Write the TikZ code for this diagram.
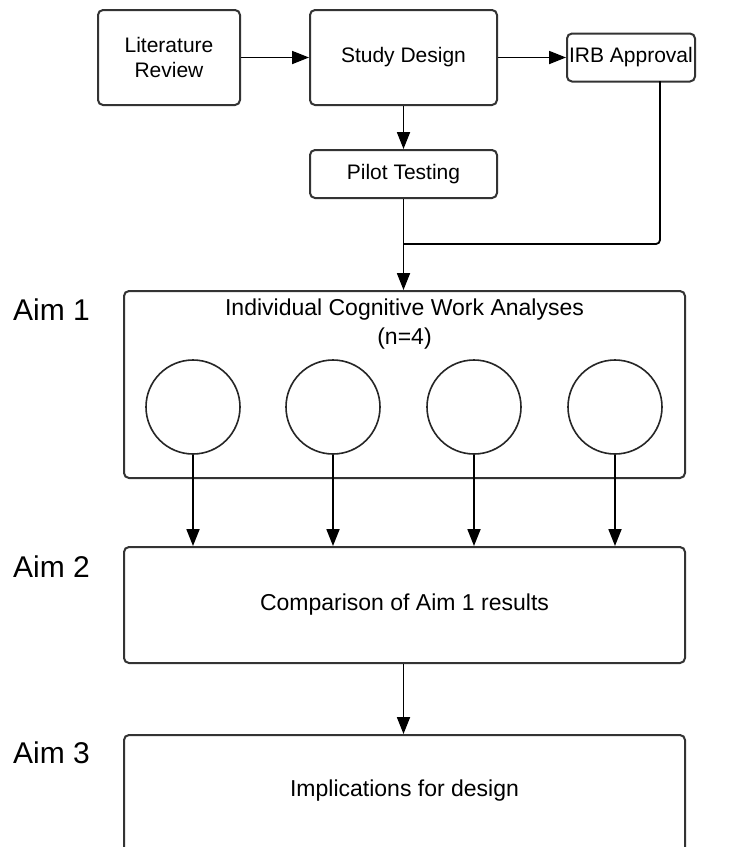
\documentclass[tikz,border=0pt]{standalone}
\usepackage{fontspec}
\setmainfont{Liberation Sans}
\usetikzlibrary{arrows.meta}
\begin{document}
\begin{tikzpicture}[x=1pt,y=-1pt,
  box/.style={draw=black!80,line width=2pt,rounded corners=5pt,inner sep=0pt,align=center,font=\fontsize{21}{25}\selectfont},
  bigbox/.style={box,font=\fontsize{23}{27}\selectfont},
  circ/.style={draw=black!85,line width=1.6pt,circle,minimum size=94pt,inner sep=0pt},
  arr/.style={draw=black,line width=1.8pt,-{Triangle[length=17pt,width=13pt]}},
  lbl/.style={font=\fontsize{23}{29}\selectfont,align=center,inner sep=0pt},
  aim/.style={font=\fontsize{30}{32}\selectfont,anchor=west,inner sep=0pt}]
\clip (0,0) rectangle (743,847);
\fill[white] (0,0) rectangle (743,847);
% top row
\node[box,minimum width=142pt,minimum height=95pt] (lit) at (169,57.5) {Literature\\Review};
\node[box,minimum width=187pt,minimum height=95pt] (sd) at (403.5,57.5) {Study Design};
\node[box,minimum width=128pt,minimum height=48pt] (irb) at (631,57.5) {IRB Approval};
\node[box,minimum width=187pt,minimum height=48pt] (pilot) at (403.5,174) {Pilot Testing};
% aim boxes
\node[bigbox,minimum width=561pt,minimum height=187pt] (a1) at (404.5,384.5) {};
\node[lbl] (title) at (404.5,324) {Individual Cognitive Work Analyses\\(n=4)};
\node[circ] (c1) at (193,407) {};
\node[circ] (c2) at (333,407) {};
\node[circ] (c3) at (474,407) {};
\node[circ] (c4) at (615,407) {};
\node[bigbox,minimum width=561pt,minimum height=116pt] (a2) at (404.5,605) {Comparison of Aim 1 results};
\node[bigbox,minimum width=561pt,minimum height=160pt] (a3) at (404.5,815) {};
\node[lbl] (impl) at (404.5,791) {Implications for design};
% aim labels
\node[aim] (l1) at (13,310) {Aim 1};
\node[aim] (l2) at (13,567) {Aim 2};
\node[aim] (l3) at (13,753) {Aim 3};
% connectors
\draw[arr] (lit) -- (sd);
\draw[arr] (sd) -- (irb);
\draw[arr] (sd) -- (pilot);
\coordinate (j) at (403.5,244);
\coordinate (irbdown) at (660,81);
\draw[black,line width=1.8pt,rounded corners=4pt] (irbdown) |- (j);
\draw[arr] (pilot.south) -- (pilot.south |- a1.north);
\foreach \c in {c1,c2,c3,c4}{
  \draw[arr] (\c.south) -- (\c.south |- a2.north);
}
\draw[arr] (a2.south -| pilot.south) -- (pilot.south |- a3.north);
\end{tikzpicture}
\end{document}
